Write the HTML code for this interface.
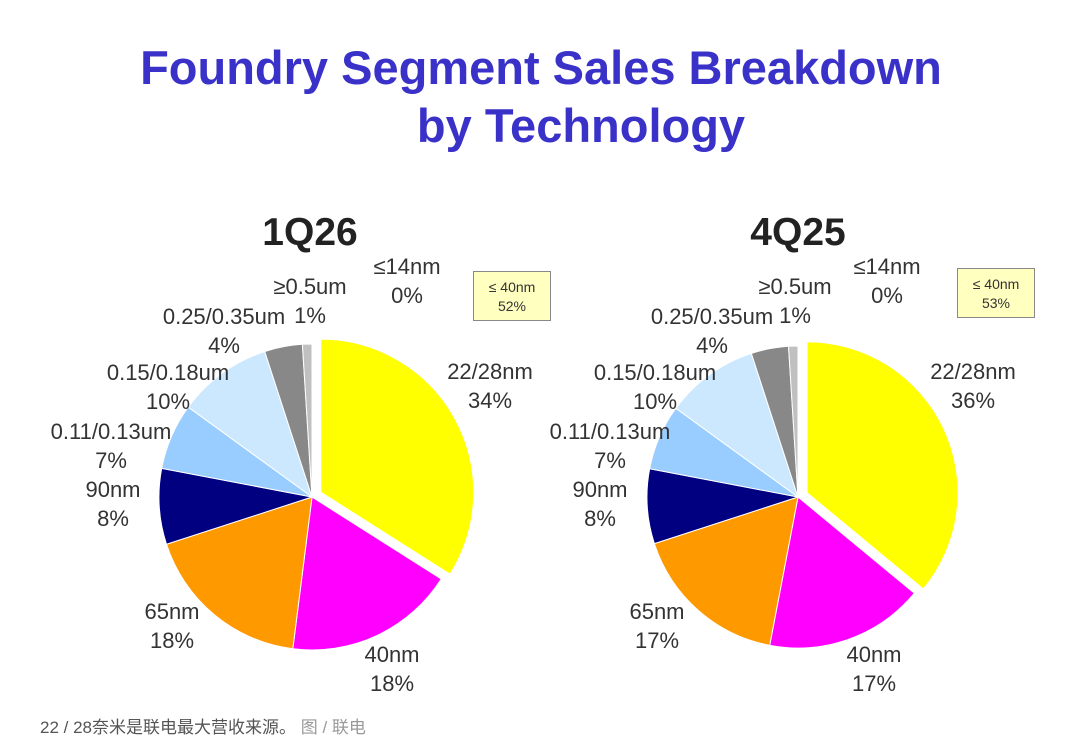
<!DOCTYPE html>
<html><head><meta charset="utf-8"><style>
body{margin:0;width:1080px;height:750px;background:#fff;overflow:hidden;font-family:"Liberation Sans","Noto Sans CJK SC",sans-serif;}
.t{position:absolute;left:0;width:1080px;text-align:center;color:#3a32c8;font-weight:bold;font-size:47px;}
.lb{position:absolute;color:#333;font-size:22px;text-align:center;line-height:29px;white-space:nowrap;transform:translateX(-50%);}
.q{position:absolute;font-weight:bold;font-size:39px;color:#222;transform:translateX(-50%);}
.box{position:absolute;background:#ffffc0;border:1px solid #888;font-size:14px;color:#333;text-align:center;line-height:19px;width:78px;height:50px;box-sizing:border-box;padding-top:6px;}
.cap{position:absolute;left:40px;top:713px;font-size:17px;color:#555;}
</style></head><body>
<div class="t" style="top:40px;left:1px">Foundry Segment Sales Breakdown</div>
<div class="t" style="top:98px;left:41px">by Technology</div>
<div class="q" style="left:310px;top:211px">1Q26</div>
<div class="q" style="left:798px;top:211px">4Q25</div>
<div class="box" style="left:473px;top:271px">≤ 40nm<br>52%</div>
<div class="box" style="left:957px;top:268px">≤ 40nm<br>53%</div>
<svg id="svg" width="1080" height="750" style="position:absolute;left:0;top:0"></svg>
<div id="labels"></div>
<div class="cap">22 / 28奈米是联电最大营收来源。 <span style="color:#999">图 / 联电</span></div>
<script>
const categories=["22/28nm","40nm","65nm","90nm","0.11/0.13um","0.15/0.18um","0.25/0.35um","≥0.5um","≤14nm"];
const values1Q26=[34,18,18,8,7,10,4,1,0];
const values4Q25=[36,17,17,8,7,10,4,1,0];
const colors=["#ffff00","#ff00ff","#ff9900","#000080","#99ccff","#cce8ff","#888888","#c0c0c0","#ffffff"];
const NS="http://www.w3.org/2000/svg";
const svg=document.getElementById('svg');
function drawPie(vals,cx,cy,r,name,labelPos){
  const tot=vals.reduce((a,b)=>a+b,0);let a0=0;
  vals.forEach((v,i)=>{
    const a1=a0+v/tot*2*Math.PI;
    if(v>0){
      let ox=0,oy=0;
      if(i===0){const m=(a0+a1)/2;ox=10*Math.sin(m);oy=-10*Math.cos(m);}
      const x0=cx+ox+r*Math.sin(a0),y0=cy+oy-r*Math.cos(a0),x1=cx+ox+r*Math.sin(a1),y1=cy+oy-r*Math.cos(a1);
      const p=document.createElementNS(NS,'path');
      p.setAttribute('d',`M${cx+ox},${cy+oy}L${x0},${y0}A${r},${r} 0 ${a1-a0>Math.PI?1:0} 1 ${x1},${y1}Z`);
      p.setAttribute('fill',colors[i]);p.setAttribute('stroke','#fff');p.setAttribute('stroke-width','1');
      
      
      svg.appendChild(p);
    }
    const d=document.createElement('div');d.className='lb';
    d.style.left=labelPos[i][0]+'px';d.style.top=labelPos[i][1]+'px';
    d.innerHTML=categories[i]+'<br>'+v+'%';
    
    
    document.getElementById('labels').appendChild(d);
    a0=a1;
  });
}
drawPie(values1Q26,312,497,153,'pie-1q26',[[490,357],[392,640],[172,597],[113,475],[111,417],[168,358],[224,302],[310,272],[407,252]]);
drawPie(values4Q25,798,497,151,'pie-4q25',[[973,357],[874,640],[657,597],[600,475],[610,417],[655,358],[712,302],[795,272],[887,252]]);
</script>
</body></html>
